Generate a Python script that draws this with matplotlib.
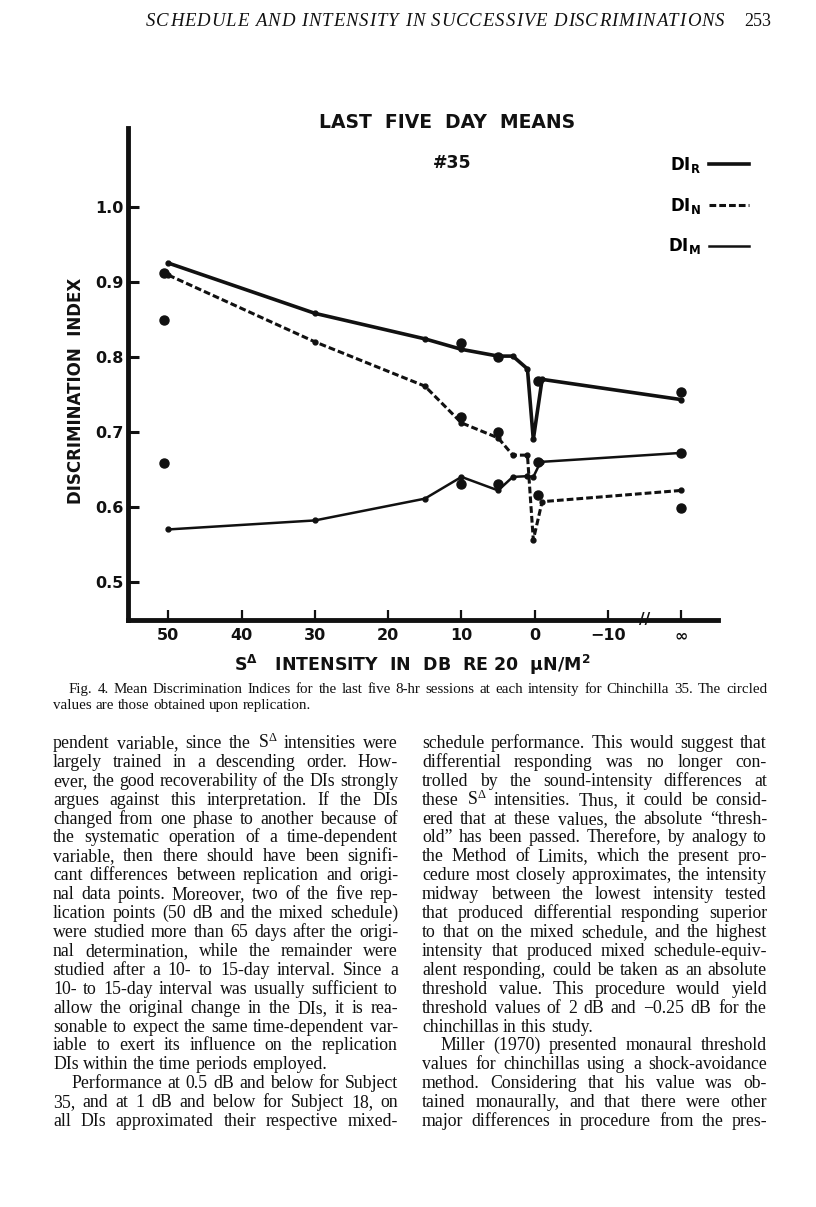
import matplotlib
matplotlib.use('Agg')
import matplotlib.pyplot as plt
import matplotlib.transforms as mtransforms
from matplotlib.lines import Line2D

W, H = 816, 1207
INK = '#111111'

plt.rcParams['font.family'] = ['DejaVu Sans']
plt.rcParams['mathtext.default'] = 'regular'

# ---- chart data ----
INF_X = -20  # where the "infinity" (mixed schedule) column sits on the axis
x_ticks = [50, 40, 30, 20, 10, 0, -10, INF_X]
x_ticklabels = ['50', '40', '30', '20', '10', '0', '−10', '∞']
y_ticks = [0.5, 0.6, 0.7, 0.8, 0.9, 1.0]
y_ticklabels = ['0.5', '0.6', '0.7', '0.8', '0.9', '1.0']

db_r = [50, 30, 15, 10, 5, 3, 1, 0.2, -1, INF_X]
di_r = [0.925, 0.858, 0.824, 0.81, 0.801, 0.801, 0.784, 0.69, 0.77, 0.743]
db_n = [50, 30, 15, 10, 5, 3, 1, 0.2, -1, INF_X]
di_n = [0.909, 0.82, 0.761, 0.712, 0.692, 0.669, 0.669, 0.556, 0.607, 0.622]
db_m = [50, 30, 15, 10, 5, 3, 1, 0.2, -0.8, INF_X]
di_m = [0.570, 0.582, 0.611, 0.64, 0.622, 0.64, 0.641, 0.64, 0.66, 0.672]

# circled points = replication values
rep_db = [50.6, 10, 5, -0.4, INF_X]
rep_r = [0.912, 0.818, 0.80, 0.768, 0.753]
rep_n = [0.849, 0.72, 0.70, 0.616, 0.599]
rep_m = [0.658, 0.63, 0.631, 0.66, 0.672]

# ---- page text ----
header = 'SCHEDULE AND INTENSITY IN SUCCESSIVE DISCRIMINATIONS'
page_no = '253'
caption = [
    'Fig. 4. Mean Discrimination Indices for the last five 8-hr sessions at each intensity for Chinchilla 35. The circled',
    'values are those obtained upon replication.',
]
left_lines = [
    r'pendent variable, since the S$^\Delta$ intensities were',
    'largely trained in a descending order. How-',
    'ever, the good recoverability of the DIs strongly',
    'argues against this interpretation. If the DIs',
    'changed from one phase to another because of',
    'the systematic operation of a time-dependent',
    'variable, then there should have been signifi-',
    'cant differences between replication and origi-',
    'nal data points. Moreover, two of the five rep-',
    'lication points (50 dB and the mixed schedule)',
    'were studied more than 65 days after the origi-',
    'nal determination, while the remainder were',
    'studied after a 10- to 15-day interval. Since a',
    '10- to 15-day interval was usually sufficient to',
    'allow the original change in the DIs, it is rea-',
    'sonable to expect the same time-dependent var-',
    'iable to exert its influence on the replication',
    'DIs within the time periods employed.',
    'Performance at 0.5 dB and below for Subject',
    '35, and at 1 dB and below for Subject 18, on',
    'all DIs approximated their respective mixed-',
]
left_para_end = [17]
left_indent = [18]
right_lines = [
    'schedule performance. This would suggest that',
    'differential responding was no longer con-',
    'trolled by the sound-intensity differences at',
    r'these S$^\Delta$ intensities. Thus, it could be consid-',
    'ered that at these values, the absolute “thresh-',
    'old” has been passed. Therefore, by analogy to',
    'the Method of Limits, which the present pro-',
    'cedure most closely approximates, the intensity',
    'midway between the lowest intensity tested',
    'that produced differential responding superior',
    'to that on the mixed schedule, and the highest',
    'intensity that produced mixed schedule-equiv-',
    'alent responding, could be taken as an absolute',
    'threshold value. This procedure would yield',
    'threshold values of 2 dB and −0.25 dB for the',
    'chinchillas in this study.',
    'Miller (1970) presented monaural threshold',
    'values for chinchillas using a shock-avoidance',
    'method. Considering that his value was ob-',
    'tained monaurally, and that there were other',
    'major differences in procedure from the pres-',
]
right_para_end = [15]
right_indent = [16]

fig = plt.figure(figsize=(W / 100, H / 100), dpi=100)
fig.patch.set_facecolor('white')
renderer = fig.canvas.get_renderer()


def put_line(line, x0, x1, base, size, justify=True, **kw):
    # place words one by one so the line fills the column width
    words = line.split(' ')
    ts = [fig.text(0, 1 - base / H, w, fontsize=size, va='baseline', color=INK, **kw)
          for w in words]
    widths = [t.get_window_extent(renderer).width for t in ts]
    if justify and len(words) > 1:
        gap = (x1 - x0 - sum(widths)) / (len(words) - 1)
    else:
        gap = size * 100 / 72 * 0.25
    x = x0
    for t, w in zip(ts, widths):
        t.set_x(x / W)
        x += w + gap


def put_tracked(text, x0, x1, base, size, **kw):
    # letter-spaced line: spread the extra room over every character
    ts = [fig.text(0, 1 - base / H, c, fontsize=size, va='baseline', color=INK, **kw)
          for c in text]
    space = size * 100 / 72 * 0.25
    widths = [space if c == ' ' else t.get_window_extent(renderer).width
              for c, t in zip(text, ts)]
    extra = (x1 - x0 - sum(widths)) / (len(text) - 1)
    x = x0
    for t, w in zip(ts, widths):
        t.set_x(x / W)
        x += w + extra


serif = dict(family=['Liberation Serif', 'DejaVu Serif'])

# running head
put_tracked(header, 146, 724, 26, 13.5, style='italic', **serif)
put_line(page_no, 744, 767, 26, 13, justify=False, **serif)

# ---- the chart ----
ax = fig.add_axes([128 / W, 1 - 620 / H, 590 / W, (620 - 128) / H])
ax.set_xlim(55.5, -25)
ax.set_ylim(0.4493, 1.105)
ax.patch.set_alpha(0)
for side in ['top', 'right']:
    ax.spines[side].set_visible(False)
for side in ['left', 'bottom']:
    ax.spines[side].set_linewidth(3.5)
    ax.spines[side].set_color(INK)

DASH = (0, (2.2, 1.0))
ax.plot(db_r, di_r, color=INK, lw=2.6, marker='o', ms=3.5, solid_joinstyle='round')
ax.plot(db_n, di_n, color=INK, lw=2.2, ls=DASH, marker='o', ms=3.5)
ax.plot(db_m, di_m, color=INK, lw=1.8, marker='o', ms=3.5, solid_joinstyle='round')
for vals in [rep_r, rep_n, rep_m]:
    ax.plot(rep_db, vals, 'o', color=INK, ms=6.5, ls='none')

ax.set_xticks(x_ticks, x_ticklabels)
ax.set_yticks(y_ticks, y_ticklabels)
ax.tick_params(axis='x', direction='in', length=7.5, width=1.6, pad=6, labelsize=11.5, colors=INK)
ax.tick_params(axis='y', direction='in', length=8, width=2.2, pad=3, labelsize=11.5, colors=INK)
for lbl in ax.get_xticklabels() + ax.get_yticklabels():
    lbl.set_fontweight('bold')

# axis break between -10 and infinity
brk = mtransforms.blended_transform_factory(ax.transData, ax.transAxes)
ax.text(-15, 0.005, '//', transform=brk, ha='center', va='center_baseline', fontsize=11,
        fontweight='bold', color=INK)

handles = [Line2D([], [], color=INK, lw=2.6),
           Line2D([], [], color=INK, lw=2.2, ls=DASH),
           Line2D([], [], color=INK, lw=1.8)]
ax.legend(handles, ['DI$_R$', 'DI$_N$', 'DI$_M$'], markerfirst=False, frameon=False,
          loc='upper right', bbox_to_anchor=(756 / W, 1 - 148 / H), bbox_transform=fig.transFigure,
          handlelength=2.4, handletextpad=0.5, labelspacing=1.25, borderaxespad=0,
          prop=dict(size=12, weight='bold'))

fig.text(447 / W, 1 - 123 / H, 'LAST  FIVE  DAY  MEANS', ha='center', va='center',
         fontsize=13.5, fontweight='bold', color=INK)
fig.text(452 / W, 1 - 163 / H, '#35', ha='center', va='center',
         fontsize=12.5, fontweight='bold', color=INK)
fig.text(76 / W, 1 - 391 / H, 'DISCRIMINATION  INDEX', rotation=90, ha='center', va='center',
         fontsize=12, fontweight='bold', color=INK)
fig.text(412 / W, 1 - 665 / H, r'S$^{\Delta}$   INTENSITY  IN  DB  RE 20  µN/M$^{2}$',
         ha='center', va='center', fontsize=12.5, fontweight='bold', color=INK)

# ---- caption ----
put_line(caption[0], 69, 767, 693, 10.8, justify=True, **serif)
put_line(caption[1], 53, 767, 709, 10.8, justify=False, **serif)

# ---- two text columns ----
for lines, x0, x1, ends, indents in [(left_lines, 53, 398, left_para_end, left_indent),
                                     (right_lines, 422, 767, right_para_end, right_indent)]:
    for k, line in enumerate(lines):
        start = x0 + (18 if k in indents else 0)
        put_line(line, start, x1, 748 + 18.9 * k, 12.8, justify=k not in ends, **serif)

fig.savefig('out.png', dpi=100, facecolor='white')
